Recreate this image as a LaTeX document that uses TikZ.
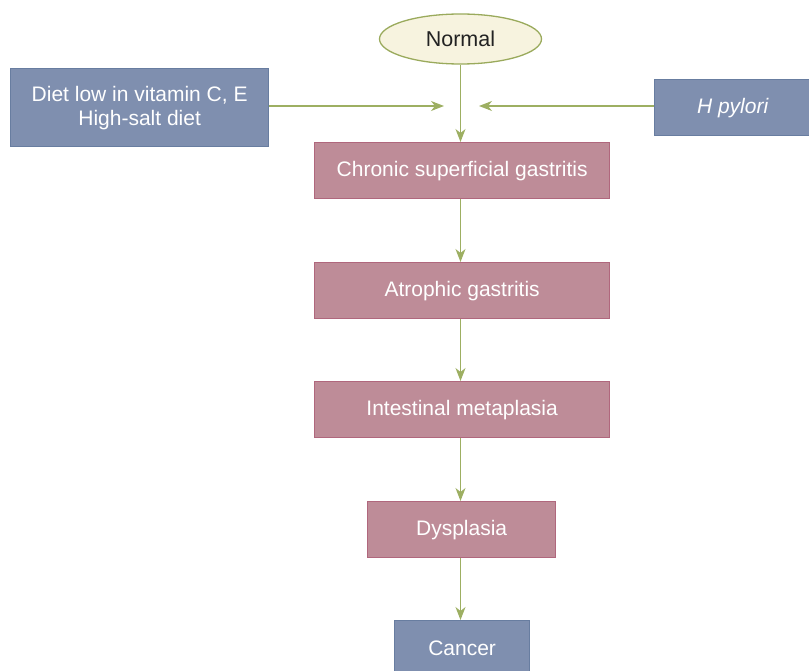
\documentclass[tikz,border=0pt]{standalone}
\usepackage{fontspec}
\setmainfont{Liberation Sans}
\usetikzlibrary{arrows.meta,shapes.geometric}
\definecolor{pinkfill}{HTML}{BE8C98}
\definecolor{pinkline}{HTML}{B0677D}
\definecolor{bluefill}{HTML}{7F8FAF}
\definecolor{blueline}{HTML}{687DA0}
\definecolor{ellfill}{HTML}{F7F3DF}
\definecolor{ellline}{HTML}{9AAA5C}
\definecolor{arrcol}{HTML}{9DAF62}
\definecolor{darktext}{HTML}{222222}
\tikzset{
  every node/.style={font=\fontsize{21}{24}\selectfont},
  stagebox/.style={draw=pinkline, line width=1.3pt, fill=pinkfill, text=white, inner sep=0pt, anchor=north west},
  causebox/.style={draw=blueline, line width=1.3pt, fill=bluefill, text=white, inner sep=0pt, anchor=north west, align=center},
  flow/.style={draw=arrcol, line width=1.2pt, -{Stealth[length=13pt,width=10pt,inset=4pt]}},
}
\begin{document}
\begin{tikzpicture}[x=1pt,y=-1pt]
\useasboundingbox (0,0) rectangle (809,671);
\clip (0,0) rectangle (809,671);
\node[ellipse, draw=ellline, line width=1.3pt, fill=ellfill, text=darktext, minimum width=162pt, minimum height=50pt, inner sep=0pt, font=\fontsize{21.5}{24}\selectfont] (normal) at (460.5,39) {Normal};
\node[causebox, minimum width=258pt, minimum height=78pt] (diet) at (10,68) {Diet low in vitamin C, E\\High-salt diet};
\node[causebox, minimum width=160pt, minimum height=56pt] (hp) at (654,79) {\hspace*{-2pt}\itshape H pylori\hspace*{2pt}};
\node[stagebox, minimum width=295pt, minimum height=56pt] (csg) at (314,142) {Chronic superficial gastritis};
\node[stagebox, minimum width=295pt, minimum height=56pt] (atr) at (314,262) {Atrophic gastritis};
\node[stagebox, minimum width=295pt, minimum height=56pt] (im) at (314,381) {Intestinal metaplasia};
\node[stagebox, minimum width=188pt, minimum height=56pt] (dys) at (367,501) {Dysplasia};
\node[causebox, minimum width=135pt, minimum height=60pt] (can) at (394,620) {\raisebox{4pt}{Cancer}};
\coordinate (ltip) at (444,106);
\coordinate (rtip) at (479,106);
\draw[flow] (diet.east |- ltip) -- (ltip);
\draw[flow] (hp.west |- rtip) -- (rtip);
\draw[flow] (normal.south) -- (normal.south |- csg.north);
\draw[flow] (normal.south |- csg.south) -- (normal.south |- atr.north);
\draw[flow] (normal.south |- atr.south) -- (normal.south |- im.north);
\draw[flow] (normal.south |- im.south) -- (normal.south |- dys.north);
\draw[flow] (normal.south |- dys.south) -- (normal.south |- can.north);
\end{tikzpicture}
\end{document}
